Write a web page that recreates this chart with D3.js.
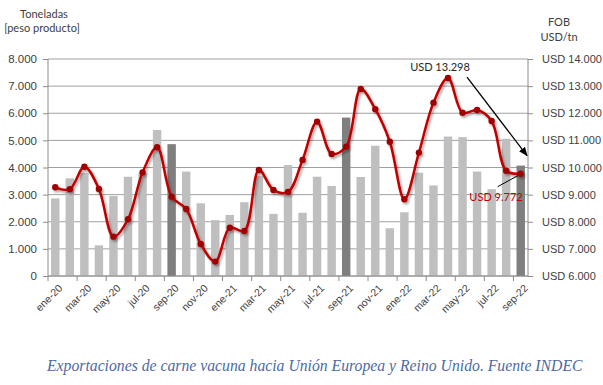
<!doctype html>
<html lang="es">
<head>
<meta charset="utf-8">
<title>Exportaciones carne vacuna UE y Reino Unido</title>
<script src="https://cdn.jsdelivr.net/npm/d3@7"></script>
<style>
  body { margin: 0; background: #fff; }
  svg { display: block; font-family: Lato, "Open Sans", sans-serif; }
  .tick text { fill: #404040; }
</style>
</head>
<body>
<svg id="chart" width="603" height="385"></svg>
<script>
    // months, tonnes (bars) and FOB USD/tn (line)
    const months = ["ene-20","feb-20","mar-20","abr-20","may-20","jun-20","jul-20","ago-20","sep-20","oct-20","nov-20","dic-20",
        "ene-21","feb-21","mar-21","abr-21","may-21","jun-21","jul-21","ago-21","sep-21","oct-21","nov-21","dic-21",
        "ene-22","feb-22","mar-22","abr-22","may-22","jun-22","jul-22","ago-22","sep-22"];
    const tonnes = [2860,3600,3800,1130,2950,3660,3780,5380,4860,3850,2680,2060,
        2250,2720,3680,2290,4090,2330,3660,3320,5840,3650,4800,1760,
        2350,3810,3340,5140,5120,3850,3200,5060,4070];
    const fob = [9270,9200,10030,9210,7450,8090,9820,10745,8925,8470,7180,6530,
        7780,7660,9910,9170,9100,10280,11690,10500,10770,12895,12150,10950,
        8830,10550,12390,13298,12020,12120,11715,9880,9772];
    const leftTicks = [0,1000,2000,3000,4000,5000,6000,7000,8000];
    const rightTicks = [6000,7000,8000,9000,10000,11000,12000,13000,14000];
    const highlight = ["sep-20","sep-21","sep-22"];

    const fmt = v => v === 0 ? "0" : d3.format(",")(v).replace(/,/g, ".");

    const svg = d3.select("#chart");
    const margin = {top: 59, left: 48, right: 75, bottom: 109};
    const width = +svg.attr("width") - margin.left - margin.right;
    const height = +svg.attr("height") - margin.top - margin.bottom;

    const defs = svg.append("defs");
    const shadow = defs.append("filter").attr("id", "shadow")
        .attr("x", "-10%").attr("y", "-10%").attr("width", "120%").attr("height", "130%");
    shadow.append("feDropShadow").attr("dx", 1.5).attr("dy", 2).attr("stdDeviation", 1.2)
        .attr("flood-color", "#000").attr("flood-opacity", 0.35);
    defs.append("marker").attr("id", "arrow")
        .attr("viewBox", "0 0 10 10").attr("refX", 9).attr("refY", 5)
        .attr("markerWidth", 7).attr("markerHeight", 7).attr("orient", "auto")
        .append("path").attr("d", "M0,1 L10,5 L0,9 z").attr("fill", "#000");

    const g = svg.append("g").attr("transform", "translate(" + margin.left + "," + margin.top + ")");

    const x = d3.scaleBand().domain(months).range([0, width]).paddingInner(0.42).paddingOuter(0.21);
    const y = d3.scaleLinear().domain([0, 8000]).range([height, 0]);
    const y2 = d3.scaleLinear().domain([6000, 14000]).range([height, 0]);

    // gridlines
    g.append("g")
        .selectAll("line").data(leftTicks).enter().append("line")
        .attr("x1", 0).attr("x2", width)
        .attr("y1", d => y(d)).attr("y2", d => y(d))
        .attr("stroke", "#a0a0a0").attr("stroke-width", 1);

    // bars
    g.append("g")
        .selectAll("rect").data(months).enter().append("rect")
        .attr("x", d => x(d))
        .attr("width", x.bandwidth())
        .attr("y", (d, i) => y(tonnes[i]))
        .attr("height", (d, i) => height - y(tonnes[i]))
        .attr("fill", d => highlight.includes(d) ? "#7f7f7f" : "#bfbfbf");

    // left axis
    const axL = g.append("g")
        .call(d3.axisLeft(y).tickValues(leftTicks).tickFormat(fmt).tickSize(5).tickPadding(6));
    axL.selectAll("text").style("font-size", "11.5px");

    // right axis
    const axR = g.append("g").attr("transform", "translate(" + width + ",0)")
        .call(d3.axisRight(y2).tickValues(rightTicks).tickFormat(d => "USD " + fmt(d)).tickSize(5).tickPadding(9));
    axR.selectAll("text").style("font-size", "11px");

    // bottom axis: labels every 2 months, ticks on band boundaries
    const step = x.step();
    const axB = g.append("g").attr("transform", "translate(0," + height + ")")
        .call(d3.axisBottom(x).tickValues(months.filter((d, i) => i % 2 === 0)).tickSize(5).tickPadding(4));
    axB.selectAll(".tick line").attr("transform", "translate(" + (-step / 2) + ",0)");
    axB.selectAll("text")
        .style("font-size", "10.5px")
        .attr("text-anchor", "end")
        .attr("transform", "translate(-3,2) rotate(-45)")
        .attr("dy", "0.6em");

    [axL, axR, axB].forEach(a => {
        a.select(".domain").attr("stroke", "#8c8c8c");
        a.selectAll(".tick line").attr("stroke", "#8c8c8c");
    });
    axL.select(".domain").attr("d", "M0," + height + "V0");
    axR.select(".domain").attr("d", "M0," + height + "V0");
    axB.select(".domain").attr("d", "M0,0H" + width);

    // price line
    const cx = d => x(d) + x.bandwidth() / 2;
    const line = d3.line()
        .x((d, i) => cx(months[i]))
        .y(d => y2(d))
        .curve(d3.curveCatmullRom.alpha(0.5));
    const lineG = g.append("g").attr("filter", "url(#shadow)");
    lineG.append("path").datum(fob)
        .attr("d", line)
        .attr("fill", "none")
        .attr("stroke", "#c00000")
        .attr("stroke-width", 2.5);
    lineG.selectAll("circle").data(fob).enter().append("circle")
        .attr("cx", (d, i) => cx(months[i]))
        .attr("cy", d => y2(d))
        .attr("r", 3.2)
        .attr("fill", "#a00000");

    // annotations
    const iMax = fob.indexOf(d3.max(fob));
    const iLast = fob.length - 1;
    const px = cx(months[iMax]), py = y2(fob[iMax]);
    g.append("text")
        .attr("x", px - 8).attr("y", py - 7)
        .attr("text-anchor", "middle")
        .style("font-size", "11px").attr("fill", "#262626")
        .text("USD " + fmt(fob[iMax]));
    g.append("line")
        .attr("x1", px + 19).attr("y1", py - 1)
        .attr("x2", width - 1).attr("y2", y2(9850) - 16)
        .attr("stroke", "#000").attr("stroke-width", 1.3)
        .attr("marker-end", "url(#arrow)");
    const lx = cx(months[iLast]), ly = y2(fob[iLast]);
    g.append("line")
        .attr("x1", lx - 3).attr("y1", ly + 2)
        .attr("x2", lx - 23).attr("y2", ly + 13)
        .attr("stroke", "#000").attr("stroke-width", 1);
    g.append("text")
        .attr("x", lx + 2).attr("y", ly + 27)
        .attr("text-anchor", "end")
        .style("font-size", "11px").attr("fill", "#c00000")
        .text("USD " + fmt(fob[iLast]));

    // axis titles
    svg.append("text").attr("x", 44).attr("y", 18).attr("text-anchor", "middle")
        .style("font-size", "11px").attr("fill", "#404040").text("Toneladas");
    svg.append("text").attr("x", 42).attr("y", 32).attr("text-anchor", "middle")
        .style("font-size", "11px").attr("fill", "#404040").text("[peso producto]");
    svg.append("text").attr("x", 559).attr("y", 26).attr("text-anchor", "middle")
        .style("font-size", "11px").attr("fill", "#404040").text("FOB");
    svg.append("text").attr("x", 559).attr("y", 41).attr("text-anchor", "middle")
        .style("font-size", "11px").attr("fill", "#404040").text("USD/tn");

    // caption
    const cap = svg.append("text").attr("x", 47).attr("y", 371)
        .style("font-family", "'Liberation Serif', 'DejaVu Serif', serif")
        .style("font-style", "italic").style("font-size", "15px")
        .attr("fill", "#4e6aa3")
        .text("Exportaciones de carne vacuna hacia Unión Europea y Reino Unido. Fuente INDEC");
    const w = cap.node().getComputedTextLength();
    cap.style("font-size", (15 * 536 / w).toFixed(2) + "px");
</script>
</body>
</html>
